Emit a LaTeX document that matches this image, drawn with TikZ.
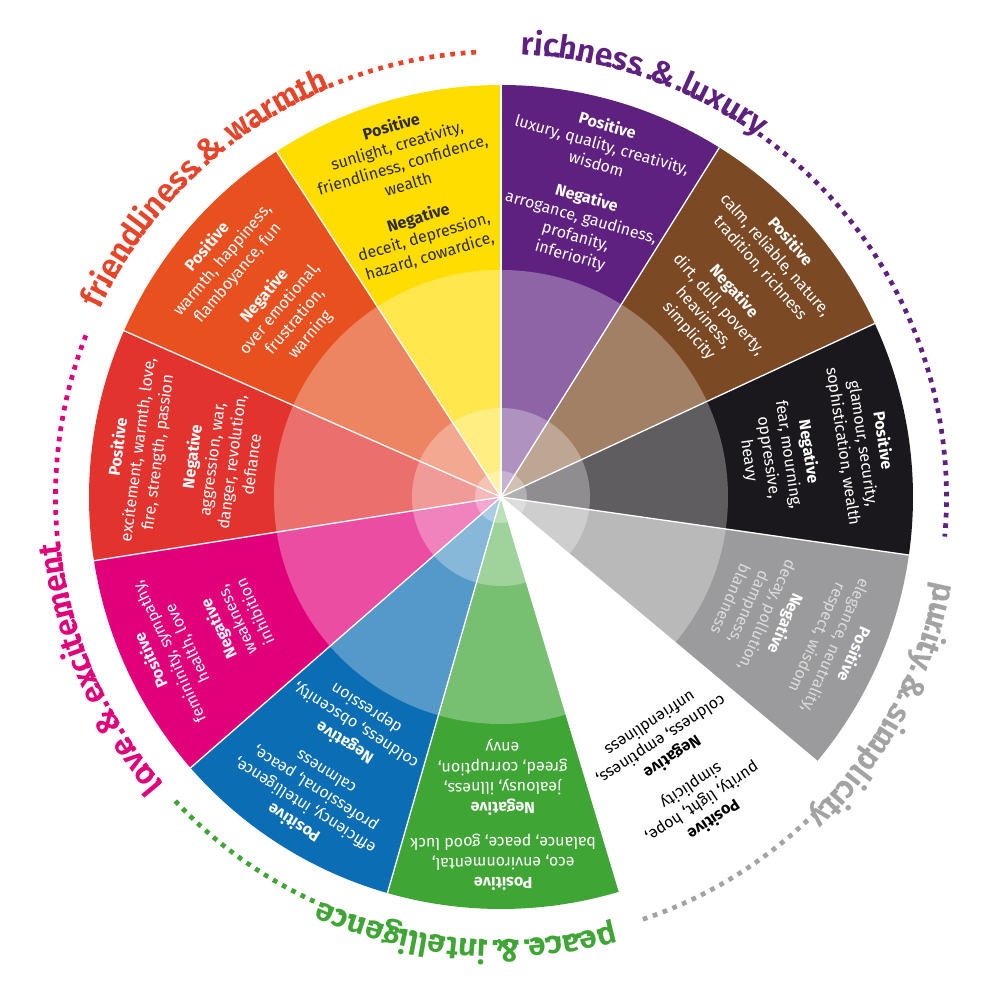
\documentclass[tikz,border=0pt]{standalone}
\usepackage{fontspec}
\setmainfont{Fira Sans}
\setsansfont{Fira Sans}
\newfontfamily\ttlfam{Fira Sans SemiBold}[LetterSpace=3]
\usetikzlibrary{decorations.text}

\definecolor{cYellow}{HTML}{FFDD00}
\definecolor{cPurple}{HTML}{5E2180}
\definecolor{cBrown}{HTML}{7B4A25}
\definecolor{cBlack}{HTML}{1A181C}
\definecolor{cGray}{HTML}{9B9B9D}
\definecolor{cGreen}{HTML}{3FA535}
\definecolor{cBlue}{HTML}{0B6DB3}
\definecolor{cPink}{HTML}{E2007A}
\definecolor{cRed}{HTML}{E3332F}
\definecolor{cOrange}{HTML}{E8511F}
\definecolor{tOrange}{HTML}{E6452A}
\definecolor{tGray}{HTML}{A3A3A3}
\definecolor{tDark}{HTML}{2E2B1F}
\definecolor{tLight}{HTML}{DCDCDC}

\newlength\ttlwidth
\newcommand\ttlfont{\ttlfam\fontsize{32}{32}\selectfont}
\newcommand\hd[1]{{\bfseries\fontsize{16}{20}\selectfont #1}}

\newcommand\ctitle[4]{% #1 colour, #2 start angle, #3 dot end angle, #4 text
  \settowidth\ttlwidth{\ttlfont #4}%
  \pgfmathsetmacro\tend{#2-\ttlwidth/443*57.29578}%
  \path[decorate, decoration={text along path, text align=left,
        text={|\ttlfont\color{#1}|#4}}]
     (#2:443pt) arc[start angle=#2, end angle=#2-60, radius=443pt];
  \draw[ttldots, #1] (\tend-0.4:445.5pt)
     arc[start angle=\tend-0.4, end angle=#3, radius=445.5pt];
}

\begin{document}
\begin{tikzpicture}[x=1pt,y=1pt,
  wtext/.style={align=center, inner sep=0pt, anchor=north,
                font=\fontsize{16}{20}\selectfont},
  sep/.style={white, line width=1.3pt},
  ttldots/.style={line width=4.7pt, dash pattern=on 4.7pt off 5.8pt}]

\useasboundingbox (-501pt,-503pt) rectangle (499pt,497pt);
\fill[white] (-501pt,-503pt) rectangle (499pt,497pt);
\coordinate (ctr) at (0,0);

% wedges
\foreach \a/\b/\c in {-8.1/24.9/cBlack, 24.9/58.0/cBrown, 58.0/90/cPurple,
   90/123.0/cYellow, 123.0/156.2/cOrange, 156.2/188.9/cRed, 188.9/221.1/cPink,
   221.1/254.0/cBlue, 254.0/286.7/cGreen, 286.7/320.1/white, 320.1/351.9/cGray}
  \fill[\c] (ctr) -- (\a:412pt) arc[start angle=\a, end angle=\b, radius=412pt] -- cycle;

% light overlays
\fill[white, opacity=0.3] (ctr) circle[radius=227pt];
\fill[white, opacity=0.3] (ctr) circle[radius=89pt];
\fill[white, opacity=0.3] (ctr) circle[radius=26pt];

% separators
\foreach \a in {-8.1,24.9,58.0,90,123.0,156.2,188.9,221.1,254.0,286.7,320.1}
  \draw[sep] (ctr) -- (\a:412pt);

% wedge texts
\node[wtext, text=white, rotate=-81.6] (tBlack) at (8.4:394pt)
  {\hd{Positive}\\glamour, security,\\sophistication, wealth\\[15pt]
   \hd{Negative}\\fear, mourning,\\oppressive,\\heavy};
\node[wtext, text=white, rotate=-48.55] (tBrown) at (41.45:394pt)
  {\hd{Positive}\\calm, reliable, nature,\\tradition, richness\\[15pt]
   \hd{Negative}\\dirt, dull, poverty,\\heaviness,\\simplicity};
\node[wtext, text=white, rotate=-16] (tPurple) at (74:394pt)
  {\hd{Positive}\\luxury, quality, creativity,\\wisdom\\[15pt]
   \hd{Negative}\\arrogance, gaudiness,\\profanity,\\inferiority};
\node[wtext, text=tDark, rotate=16.5] (tYellow) at (106.5:394pt)
  {\hd{Positive}\\sunlight, creativity,\\friendliness, confidence,\\wealth\\[15pt]
   \hd{Negative}\\deceit, depression,\\hazard, cowardice,};
\node[wtext, text=white, rotate=49.6] (tOrange) at (139.6:394pt)
  {\hd{Positive}\\warmth, happiness,\\flamboyance, fun\\[15pt]
   \hd{Negative}\\over emotional,\\frustration,\\warning};
\node[wtext, text=white, rotate=82.55] (tRed) at (172.55:394pt)
  {\hd{Positive}\\excitement, warmth, love,\\fire, strength, passion\\[15pt]
   \hd{Negative}\\aggression, war,\\danger, revolution,\\defiance};
\node[wtext, text=white, rotate=115] (tPink) at (205:394pt)
  {\hd{Positive}\\femininity, sympathy,\\health, love\\[15pt]
   \hd{Negative}\\weakness,\\inhibition};
\node[wtext, text=white, rotate=147.55] (tBlue) at (237.55:394pt)
  {\hd{Positive}\\efficiency, intelligence,\\professional, peace,\\calmness\\[15pt]
   \hd{Negative}\\coldness, obscenity,\\depression};
\node[wtext, text=white, rotate=180.35] (tGreen) at (270.35:394pt)
  {\hd{Positive}\\eco, environmental,\\balance, peace, good luck\\[15pt]
   \hd{Negative}\\jealousy, illness,\\greed, corruption,\\envy};
\node[wtext, text=black, rotate=213.4] (tWhite) at (303.4:394pt)
  {\hd{Positive}\\purity, light, hope,\\simplicity\\[15pt]
   \hd{Negative}\\coldness, emptiness,\\unfriendliness};
\node[wtext, text=tLight, rotate=246] (tGray) at (336:394pt)
  {\hd{\color{white}Positive}\\elegance, neutrality,\\respect, wisdom\\[15pt]
   \hd{\color{white}Negative}\\decay, pollution,\\dampness,\\blandness};

% curved titles with dotted tails
\ctitle{tOrange}{155}{92.5}{friendliness {\&} warmth}
\ctitle{cPurple}{87.5}{-5.1}{richness {\&} luxury}
\ctitle{tGray}{349}{288.2}{purity {\&} simplicity}
\ctitle{cGreen}{284.8}{222.9}{peace {\&} intelligence}
\ctitle{cPink}{220.5}{158.4}{love {\&} excitement}

\end{tikzpicture}
\end{document}
